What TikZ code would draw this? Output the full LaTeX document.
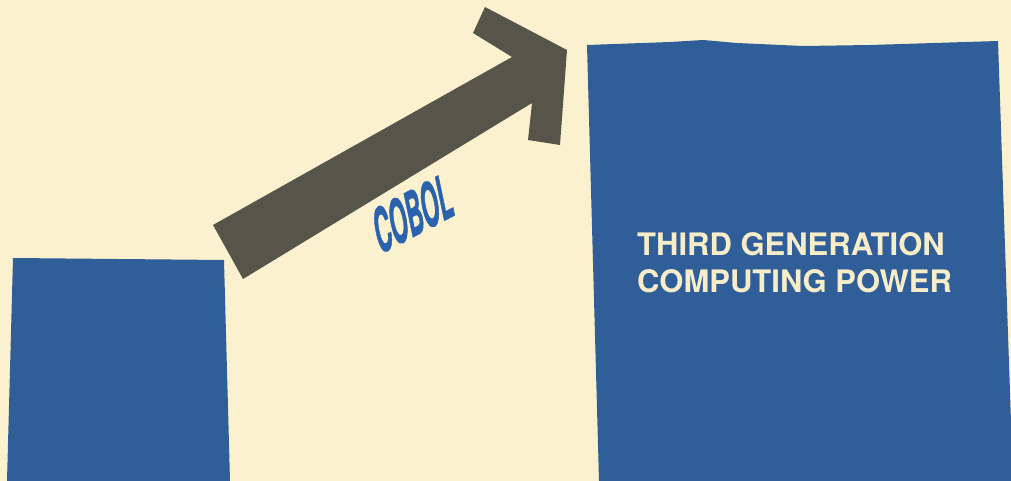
\documentclass[tikz,border=0pt]{standalone}
\usepackage{fontspec}
\setmainfont{TeX Gyre Heros}
\newfontfamily\cobolfont[FakeBold=1.6]{texgyreheros-bold.otf}
\definecolor{paper}{HTML}{FBF1CE}
\definecolor{blockblue}{HTML}{2F5E98}
\definecolor{arrowgray}{HTML}{57544A}
\definecolor{creamtext}{HTML}{F7EDC8}
\definecolor{cobolblue}{HTML}{2A62AD}
\tikzset{
  block/.style={fill=blockblue},
  bigarrow/.style={fill=arrowgray},
  powertext/.style={font=\fontsize{31}{37}\selectfont\bfseries, text=creamtext, inner sep=0pt, anchor=base west},
  coboltext/.style={font=\cobolfont\fontsize{54}{54}\selectfont, text=cobolblue, inner sep=0pt}
}
\begin{document}
\begin{tikzpicture}[x=1pt,y=-1pt]
\useasboundingbox (0,0) rectangle (1011,481);
\fill[paper] (0,0) rectangle (1011,481);
% small block
\fill[block] (13,258) -- (224,260) -- (230,481) -- (7,481) -- cycle;
% big block
\fill[block] (587,45) -- (670,42) -- (703,40) -- (737,43) -- (803,46) -- (870,45) -- (998,41) -- (1013,481) -- (599,481) -- cycle;
% arrow
\fill[bigarrow] (213,225) -- (512,57) -- (473,33) -- (485,7) -- (567,50) -- (560,145) -- (528,140) -- (532,103) -- (243,279) -- cycle;
% labels
\node[coboltext, cm={0.39,0.205,-0.23,1.1,(0,0)}] (cobol) at (413,213) {COBOL};
\node[powertext] (third1) at (637,255) {THIRD GENERATION};
\node[powertext] (third2) at (637,292) {COMPUTING POWER};
\end{tikzpicture}
\end{document}
